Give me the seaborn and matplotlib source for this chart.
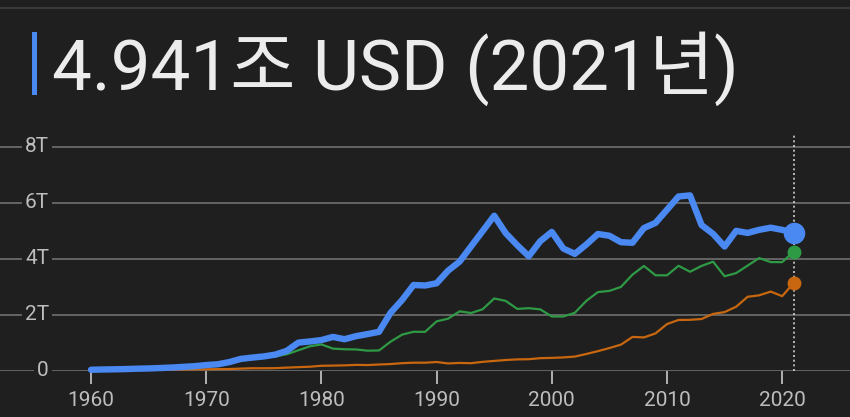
import numpy as np
import pandas as pd
import matplotlib
matplotlib.use("Agg")
import matplotlib.pyplot as plt
import seaborn as sns
from matplotlib.patches import Rectangle
from matplotlib.lines import Line2D

# ---- data (trillions USD) ----
years_jp = list(range(1960, 2022))
japan = [0.044, 0.054, 0.060, 0.069, 0.082, 0.091, 0.106, 0.124, 0.147, 0.172,
         0.213, 0.240, 0.318, 0.432, 0.479, 0.521, 0.586, 0.721, 1.014, 1.055,
         1.105, 1.218, 1.135, 1.243, 1.318, 1.399, 2.078, 2.532, 3.072, 3.054,
         3.133, 3.584, 3.909, 4.454, 4.999, 5.546, 4.923, 4.492, 4.098, 4.636,
         4.968, 4.374, 4.183, 4.519, 4.893, 4.831, 4.601, 4.579, 5.106, 5.289,
         5.759, 6.233, 6.272, 5.212, 4.897, 4.445, 5.004, 4.931, 5.041, 5.118,
         5.040, 4.941]
years_de = list(range(1970, 2022))
germany = [0.216, 0.249, 0.300, 0.398, 0.445, 0.490, 0.519, 0.600, 0.740, 0.882,
           0.950, 0.800, 0.776, 0.770, 0.726, 0.733, 1.046, 1.298, 1.401, 1.398,
           1.772, 1.869, 2.131, 2.071, 2.206, 2.591, 2.504, 2.218, 2.244, 2.201,
           1.948, 1.946, 2.079, 2.506, 2.819, 2.861, 3.002, 3.440, 3.752, 3.418,
           3.417, 3.758, 3.544, 3.753, 3.905, 3.383, 3.496, 3.765, 4.034, 3.889,
           3.888, 4.260]
years_in = list(range(1960, 2022))
india = [0.037, 0.039, 0.042, 0.048, 0.056, 0.059, 0.046, 0.050, 0.053, 0.058,
         0.062, 0.067, 0.071, 0.085, 0.099, 0.098, 0.102, 0.121, 0.137, 0.153,
         0.186, 0.193, 0.201, 0.218, 0.212, 0.232, 0.248, 0.279, 0.297, 0.296,
         0.321, 0.270, 0.288, 0.279, 0.327, 0.360, 0.392, 0.415, 0.421, 0.458,
         0.468, 0.485, 0.515, 0.608, 0.709, 0.820, 0.940, 1.217, 1.199, 1.342,
         1.676, 1.823, 1.828, 1.857, 2.039, 2.104, 2.295, 2.651, 2.703, 2.836,
         2.672, 3.150]
y_ticks = [0, 2, 4, 6, 8]
y_tick_labels = ["0", "2T", "4T", "6T", "8T"]
x_ticks = [1960, 1970, 1980, 1990, 2000, 2010, 2020]
title_text = "4.941조 USD (2021년)"

df_jp = pd.DataFrame({"year": years_jp, "value": japan})
df_de = pd.DataFrame({"year": years_de, "value": germany})
df_in = pd.DataFrame({"year": years_in, "value": india})

BG = "#1f1f1f"
GRID = "#6a6a6a"
TICK = "#bdbdbd"
BLUE = "#4a88f2"
GREEN = "#2f9a45"
ORANGE = "#c8670f"

sns.set_theme(style="dark")
plt.rcParams["font.family"] = ["Roboto", "Noto Sans CJK KR", "DejaVu Sans"]

W, H = 850, 417
fig = plt.figure(figsize=(8.5, 4.17), dpi=100, facecolor=BG)

top_px, bot_px = 135, 371
ax = fig.add_axes([0, 1 - bot_px / H, 1, (bot_px - top_px) / H])
ax.set_facecolor(BG)

px_per_year = 11.52
x0 = 1960 - 91 / px_per_year
x1 = 1960 + (850 - 91) / px_per_year
ax.set_xlim(x0, x1)
ax.set_ylim(0, 8 + (147 - top_px) / 28)

for s in ax.spines.values():
    s.set_visible(False)

ax.set_yticks(y_ticks)
ax.set_yticklabels([])
ax.tick_params(axis="y", length=0)
ax.grid(axis="y", color=GRID, linewidth=1.3)
ax.grid(axis="x", visible=False)

ax.set_xticks(x_ticks)
ax.set_xticklabels([str(t) for t in x_ticks])
ax.tick_params(axis="x", direction="out", length=9.5, width=1.3, color=TICK,
               labelcolor=TICK, labelsize=15, pad=5, bottom=True)

for v, lab in zip(y_ticks, y_tick_labels):
    ax.text(49 / W, v, lab, transform=ax.get_yaxis_transform(), ha="right",
            va="center", color=TICK, fontsize=15,
            bbox=dict(boxstyle="square,pad=0.15", facecolor=BG, edgecolor="none"))

ax.axvline(2021, ymin=0, ymax=1, color="#cfcfcf", linestyle=(0, (1.2, 1.6)),
           linewidth=1.2, zorder=2)

sns.lineplot(data=df_in, x="year", y="value", ax=ax, color=ORANGE, linewidth=1.6,
             zorder=3, clip_on=False)
sns.lineplot(data=df_de, x="year", y="value", ax=ax, color=GREEN, linewidth=1.6,
             zorder=4, clip_on=False)
sns.lineplot(data=df_jp, x="year", y="value", ax=ax, color=BLUE, linewidth=4.6,
             zorder=5, clip_on=False, solid_capstyle="round", solid_joinstyle="round")

ax.plot([years_in[-1]], [india[-1]], "o", color=ORANGE, markersize=9, zorder=6, clip_on=False)
ax.plot([years_de[-1]], [germany[-1]], "o", color=GREEN, markersize=9, zorder=6, clip_on=False)
ax.plot([years_jp[-1]], [japan[-1]], "o", color=BLUE, markersize=14.5, zorder=7, clip_on=False)

ax.set_xlabel("")
ax.set_ylabel("")

fig.add_artist(Line2D([0, 1], [1 - 8 / H, 1 - 8 / H], transform=fig.transFigure,
                      color="#3a3a3a", linewidth=1.5))
fig.add_artist(Rectangle((32 / W, 1 - 95 / H), 5 / W, 63 / H,
                         transform=fig.transFigure, facecolor=BLUE, edgecolor="none"))
fig.text(52 / W, 1 - 90 / H, title_text, color="#ececec", fontsize=51,
         ha="left", va="baseline", fontweight="normal")

fig.savefig("out.png", dpi=100, facecolor=BG)
